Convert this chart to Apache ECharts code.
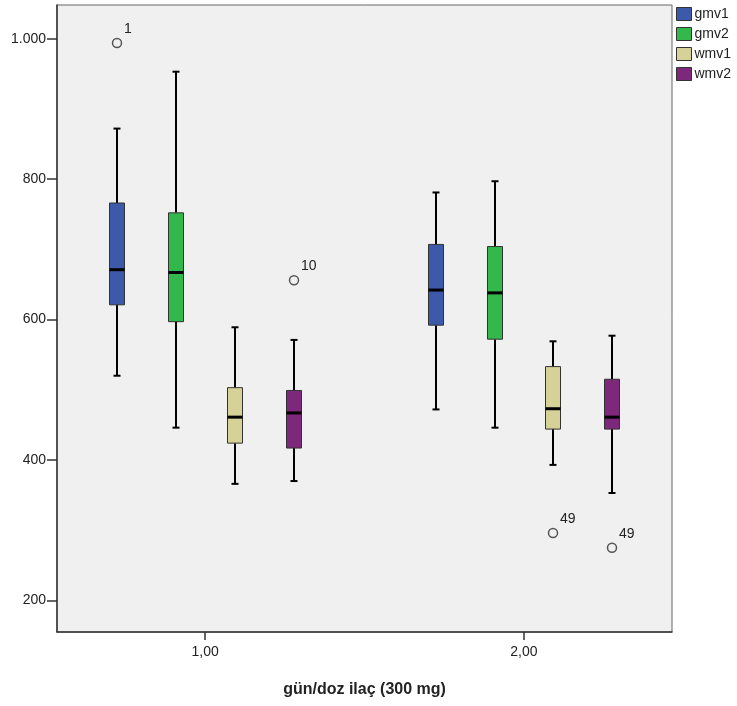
<!DOCTYPE html>
<html>
<head>
<meta charset="utf-8">
<title>gmv / wmv boxplot</title>
<script src="https://cdn.jsdelivr.net/npm/echarts@6/dist/echarts.min.js"></script>
<style>
  html, body { margin: 0; padding: 0; background: #fff; }
  #chart { width: 737px; height: 706px; }
</style>
</head>
<body>
<div id="chart"></div>
<script>
(function () {
    'use strict';

    // x values of the two groups and their tick labels
    const groups = [1, 2];
    const groupLabels = ['1,00', '2,00'];
    const seriesNames = ['gmv1', 'gmv2', 'wmv1', 'wmv2'];

    // box stats per group: [group, min, q1, median, q3, max]
    const gmv1 = [[1, 520, 621, 671, 766, 872], [2, 472, 592, 642, 707, 781]];
    const gmv2 = [[1, 446, 597, 667, 752, 953], [2, 446, 572, 638, 704, 797]];
    const wmv1 = [[1, 366, 424, 461, 503, 589], [2, 393, 444, 473, 533, 569]];
    const wmv2 = [[1, 370, 417, 467, 499, 571], [2, 353, 444, 461, 515, 577]];

    // outliers: [group, series index, value, case label]
    const outliers = [
        [1, 0, 994, '1'],
        [1, 3, 656, '10'],
        [2, 2, 296, '49'],
        [2, 3, 275, '49']
    ];

    const yTicks = [200, 400, 600, 800, 1000];

    const colors = ['#3d59aa', '#33b84b', '#d5d197', '#7e287b'];
    // horizontal shift of each box inside its group, in x-axis units
    const offsets = [-0.2773, -0.0918, 0.0925, 0.2775];
    const boxWidth = 15;
    const capWidth = 7;
    const font = 'Liberation Sans, Arial, sans-serif';

    function line (x1, y1, x2, y2, width) {
        return {
            type: 'line',
            shape: { x1: x1, y1: y1, x2: x2, y2: y2 },
            style: { stroke: '#000', lineWidth: width }
        };
    }

    function boxRenderer (idx) {
        return function (params, api) {
            const x = api.value(0) + offsets[idx];
            const cx = Math.round(api.coord([x, 0])[0]);
            const y = function (dim) { return api.coord([x, api.value(dim)])[1]; };
            const yMin = y(1), yQ1 = y(2), yMed = y(3), yQ3 = y(4), yMax = y(5);
            const half = boxWidth / 2;
            return {
                type: 'group',
                children: [
                    line(cx, yMax, cx, yQ3, 2),
                    line(cx, yQ1, cx, yMin, 2),
                    line(cx - capWidth / 2, yMax, cx + capWidth / 2, yMax, 2),
                    line(cx - capWidth / 2, yMin, cx + capWidth / 2, yMin, 2),
                    {
                        type: 'rect',
                        shape: { x: cx - half, y: yQ3, width: boxWidth, height: yQ1 - yQ3 },
                        style: { fill: colors[idx], stroke: '#333', lineWidth: 1 }
                    },
                    line(cx - half, yMed, cx + half, yMed, 3)
                ]
            };
        };
    }

    function outlierRenderer (params, api) {
        const x = api.value(0) + offsets[api.value(1)];
        const pt = api.coord([x, api.value(2)]);
        const cx = Math.round(pt[0]);
        return {
            type: 'group',
            children: [
                {
                    type: 'circle',
                    shape: { cx: cx, cy: pt[1], r: 4.5 },
                    style: { fill: 'none', stroke: '#555', lineWidth: 1.5 }
                },
                {
                    type: 'text',
                    x: cx + 7,
                    y: pt[1] - 14,
                    style: {
                        text: String(api.value(3)),
                        font: '14px ' + font,
                        fill: '#222',
                        verticalAlign: 'middle'
                    }
                }
            ]
        };
    }

    const boxData = [gmv1, gmv2, wmv1, wmv2];

    const series = seriesNames.map(function (name, i) {
        return {
            name: name,
            type: 'custom',
            renderItem: boxRenderer(i),
            itemStyle: { color: colors[i] },
            encode: { x: 0, y: [1, 2, 3, 4, 5] },
            data: boxData[i]
        };
    });
    series.push({
        name: 'outliers',
        type: 'custom',
        renderItem: outlierRenderer,
        encode: { x: 0, y: 2 },
        data: outliers
    });

    const chart = echarts.init(document.getElementById('chart'));
    chart.setOption({
        animation: false,
        backgroundColor: '#fff',
        textStyle: { fontFamily: font },
        grid: {
            left: 57,
            top: 5,
            right: 65,
            bottom: 74,
            show: true,
            backgroundColor: '#f0f0f0',
            borderColor: '#666',
            borderWidth: 1
        },
        legend: {
            data: seriesNames,
            orient: 'vertical',
            left: 676,
            top: 7,
            padding: 0,
            itemWidth: 15,
            itemHeight: 13,
            itemGap: 6,
            icon: 'rect',
            itemStyle: { borderColor: '#333', borderWidth: 1 },
            textStyle: { fontSize: 14, color: '#222', fontFamily: font, padding: [0, 0, 0, -2] }
        },
        xAxis: {
            type: 'value',
            min: 0.5355,
            max: 2.4645,
            splitLine: { show: false },
            axisLine: { lineStyle: { color: '#333', width: 1.5 } },
            axisTick: { length: 8, customValues: groups, lineStyle: { color: '#333', width: 1.5 } },
            axisLabel: {
                customValues: groups,
                margin: 13,
                fontSize: 14,
                color: '#222',
                formatter: function (v) { return groupLabels[groups.indexOf(v)]; }
            },
            name: 'gün/doz ilaç (300 mg)',
            nameLocation: 'middle',
            nameGap: 50,
            nameTextStyle: { fontSize: 16, fontWeight: 'bold', color: '#222', fontFamily: font }
        },
        yAxis: {
            type: 'value',
            min: 155,
            max: 1048,
            splitLine: { show: false },
            axisLine: { show: true, lineStyle: { color: '#333', width: 1.5 } },
            axisTick: { show: true, length: 10, customValues: yTicks, lineStyle: { color: '#333', width: 1.5 } },
            axisLabel: {
                customValues: yTicks,
                margin: 11,
                fontSize: 14,
                color: '#222',
                formatter: function (v) { return v >= 1000 ? '1.000' : String(v); }
            }
        },
        series: series
    });
}());
</script>
</body>
</html>
